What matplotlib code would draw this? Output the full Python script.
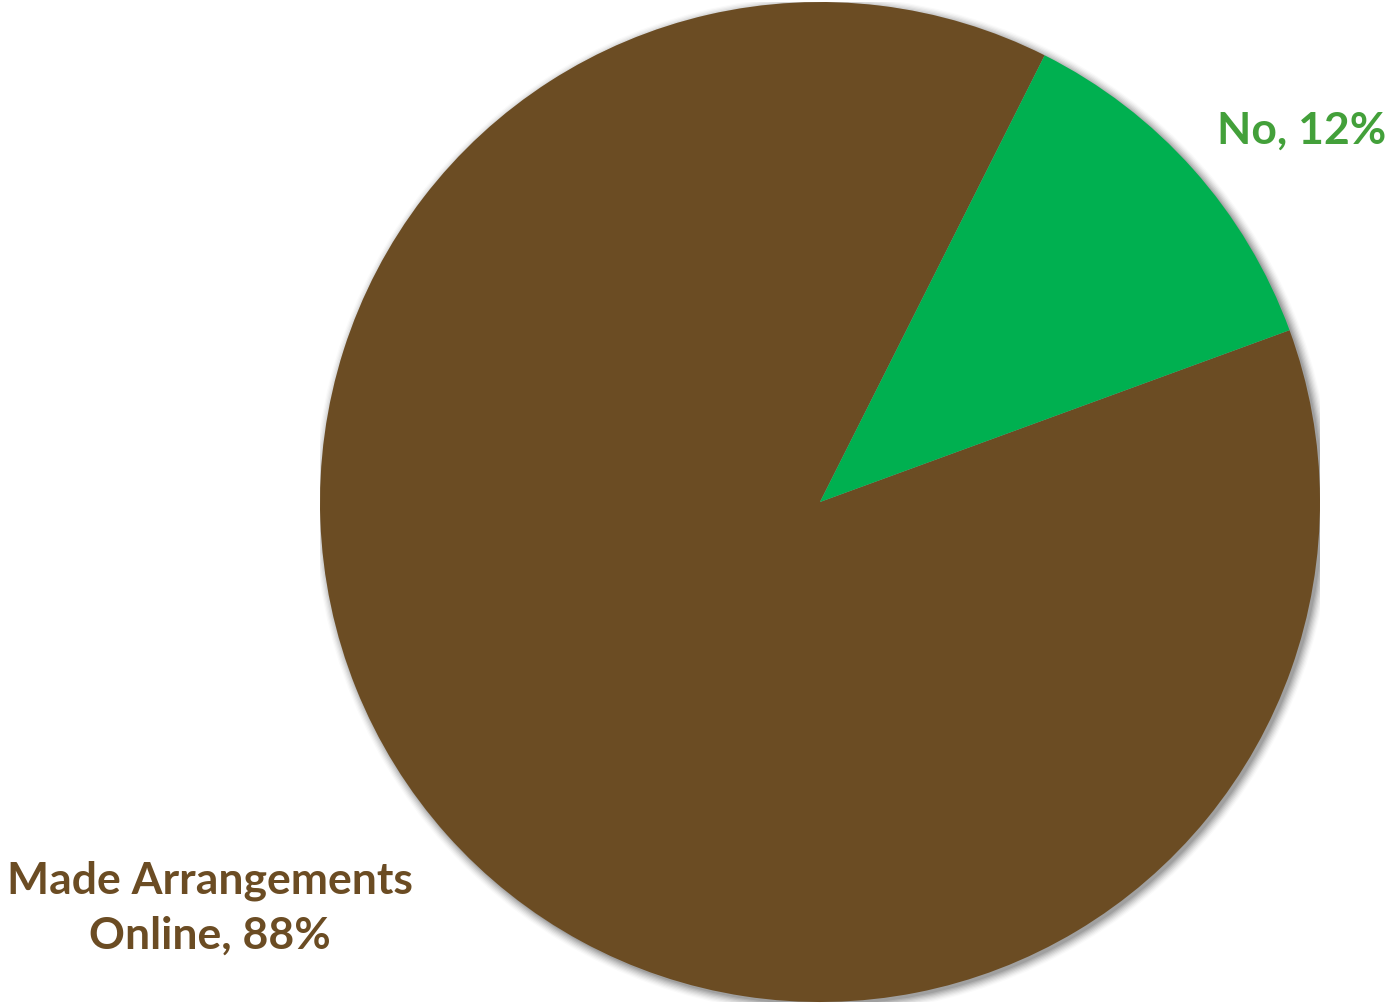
import numpy as np
import matplotlib.pyplot as plt
from matplotlib.patches import Circle

# Datos del gráfico
labels = ["Made Arrangements\nOnline", "No"]
values = [88, 12]
colors = ["#6B4C23", "#00B050"]
label_colors = ["#6B4C23", "#43A03A"]

fig = plt.figure(figsize=(13.87, 10.04), dpi=100)
ax = fig.add_axes([320 / 1387, 1 / 1004, 1000 / 1387, 1000 / 1004])

# Sombra suave alrededor del pastel
for r, a in zip(np.linspace(1.018, 1.0, 8), np.linspace(0.02, 0.09, 8)):
    ax.add_patch(Circle((0.006, -0.006), r, color="black", alpha=a, lw=0, zorder=0))

wedges, _ = ax.pie(values, colors=colors, startangle=20.1, counterclock=False,
                   radius=1.0, wedgeprops=dict(linewidth=0), normalize=True)
for w in wedges:
    w.set_zorder(2)

# Etiquetas de datos
text_pos = [(-1.22, -0.81), (0.964, 0.744)]
for lab, v, c, (x, y) in zip(labels, values, label_colors, text_pos):
    ax.text(x, y, f"{lab}, {v}%", color=c, fontsize=32, fontweight="bold",
            family="Lato", ha="center", va="center", linespacing=1.45,
            clip_on=False)

ax.set_xlim(-1, 1)
ax.set_ylim(-1, 1)
ax.set_aspect("equal")
ax.axis("off")

fig.savefig("out.png", dpi=100)
